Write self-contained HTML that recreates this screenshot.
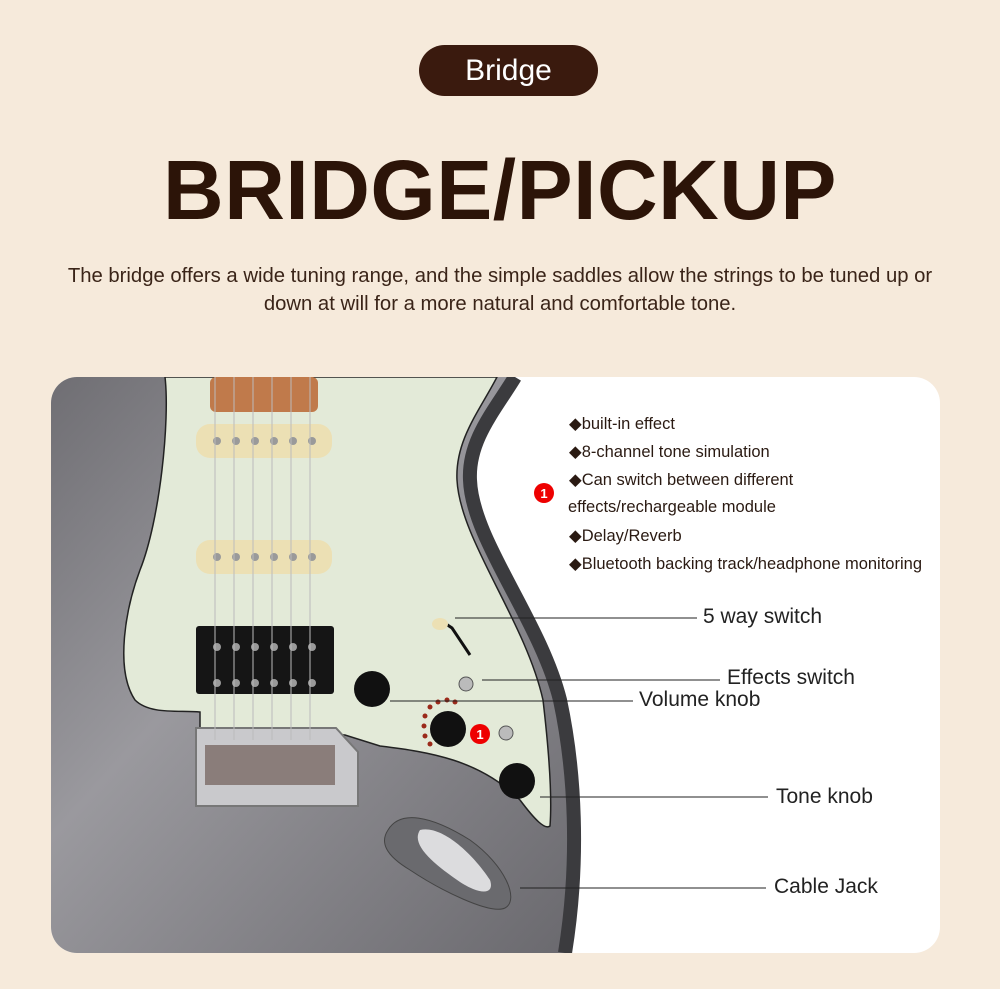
<!DOCTYPE html>
<html><head><meta charset="utf-8"><style>
html,body{margin:0;padding:0;background:#f6eadb;}
body{width:1000px;height:989px;position:relative;overflow:hidden;font-family:"Liberation Sans",sans-serif;}
.pill{position:absolute;left:419px;top:45px;width:179px;height:51px;border-radius:26px;background:#3a1a0e;color:#fff;font-size:30px;text-align:center;line-height:51px;}
h1{position:absolute;left:0;top:140px;width:1000px;margin:0;text-align:center;font-size:84px;font-weight:bold;color:#2c1408;letter-spacing:0.5px;line-height:100px;}
.desc{position:absolute;left:0;top:262px;width:1000px;text-align:center;font-size:20.3px;line-height:28px;color:#3a2418;}
.card{position:absolute;left:51px;top:377px;width:889px;height:576px;border-radius:26px;background:#fff;overflow:hidden;}
.t{position:absolute;font-size:16.5px;color:#2a1a12;}
.l{position:absolute;font-size:21px;color:#222;}
</style></head><body>
<div class="pill">Bridge</div>
<h1>BRIDGE/PICKUP</h1>
<div class="desc">The bridge offers a wide tuning range, and the simple saddles allow the strings to be tuned up or<br>down at will for a more natural and comfortable tone.</div>
<div class="card">
<svg width="889" height="576" viewBox="51 377 889 576" style="position:absolute;left:0;top:0">
<defs><linearGradient id="g" x1="0" y1="0" x2="1" y2="1"><stop offset="0" stop-color="#6f6e73"/><stop offset="0.4" stop-color="#9a999e"/><stop offset="1" stop-color="#6a696e"/></linearGradient></defs>
<path d="M51 377 H515 C495 410 468 440 470 480 C472 540 540 620 560 700 C575 770 580 860 565 953 H51 Z" fill="url(#g)"/>
<path d="M515 377 C495 410 468 440 470 480 C472 540 540 620 560 700 C575 770 580 860 565 953" fill="none" stroke="#3b3b3e" stroke-width="14"/>
<path d="M340 377 C360 390 400 400 430 390 L450 377 Z" fill="#3a3a3d"/>
<path d="M165 377 C170 420 160 520 140 570 C125 610 115 670 135 700 C150 715 180 710 200 712 L200 728 L345 735 L380 746 C430 752 480 760 520 800 C535 820 545 830 550 826 C552 800 550 760 543 700 C525 620 460 540 457 480 C455 440 480 410 497 377 Z" fill="#e3ead8" stroke="#222" stroke-width="1.5"/>
<rect x="210" y="377" width="108" height="35" rx="6" fill="#c07a4b"/>
<rect x="196" y="424" width="136" height="34" rx="14" fill="#ece0b4"/>
<rect x="196" y="540" width="136" height="34" rx="14" fill="#ece0b4"/>
<rect x="196" y="626" width="138" height="68" rx="3" fill="#151515"/>
<g fill="#9a9a9a"><circle cx="217" cy="441" r="4"/><circle cx="236" cy="441" r="4"/><circle cx="255" cy="441" r="4"/><circle cx="274" cy="441" r="4"/><circle cx="293" cy="441" r="4"/><circle cx="312" cy="441" r="4"/>
<circle cx="217" cy="557" r="4"/><circle cx="236" cy="557" r="4"/><circle cx="255" cy="557" r="4"/><circle cx="274" cy="557" r="4"/><circle cx="293" cy="557" r="4"/><circle cx="312" cy="557" r="4"/>
<circle cx="217" cy="647" r="4"/><circle cx="236" cy="647" r="4"/><circle cx="255" cy="647" r="4"/><circle cx="274" cy="647" r="4"/><circle cx="293" cy="647" r="4"/><circle cx="312" cy="647" r="4"/>
<circle cx="217" cy="683" r="4"/><circle cx="236" cy="683" r="4"/><circle cx="255" cy="683" r="4"/><circle cx="274" cy="683" r="4"/><circle cx="293" cy="683" r="4"/><circle cx="312" cy="683" r="4"/></g>
<path d="M196 728 H336 L358 752 V806 H196 Z" fill="#c9c9cc" stroke="#777" stroke-width="2"/>
<rect x="205" y="745" width="130" height="40" fill="#8a7d7a"/>
<g stroke="#bbb" stroke-width="1"><line x1="215" y1="377" x2="215" y2="740"/><line x1="234" y1="377" x2="234" y2="740"/><line x1="253" y1="377" x2="253" y2="740"/><line x1="272" y1="377" x2="272" y2="740"/><line x1="291" y1="377" x2="291" y2="740"/><line x1="310" y1="377" x2="310" y2="740"/></g>
<circle cx="372" cy="689" r="18" fill="#111"/>
<circle cx="448" cy="729" r="18" fill="#111"/>
<circle cx="517" cy="781" r="18" fill="#111"/>
<g fill="#9b2a1a"><circle cx="425" cy="716" r="2.5"/><circle cx="430" cy="707" r="2.5"/><circle cx="438" cy="702" r="2.5"/><circle cx="447" cy="700" r="2.5"/><circle cx="424" cy="726" r="2.5"/><circle cx="425" cy="736" r="2.5"/><circle cx="430" cy="744" r="2.5"/><circle cx="455" cy="702" r="2.5"/></g>
<circle cx="506" cy="733" r="7" fill="#bbb" stroke="#555"/>
<circle cx="466" cy="684" r="7" fill="#bbb" stroke="#555"/>
<path d="M440 620 L452 628 L470 655" stroke="#111" stroke-width="3" fill="none"/><ellipse cx="440" cy="624" rx="8" ry="6" fill="#ece0b4"/>
<path d="M388 830 C400 810 430 815 470 840 C505 865 520 900 505 908 C490 915 440 890 410 870 C385 855 380 842 388 830 Z" fill="#6a6a6e" stroke="#444"/>
<path d="M420 830 C440 825 470 850 490 880 C495 895 480 895 460 882 C435 865 410 845 420 830 Z" fill="#dcdcde"/>
<circle cx="480" cy="734" r="10" fill="#e00"/><circle cx="544" cy="493" r="10" fill="#e00"/>
<g stroke="#222" stroke-width="1"><line x1="455" y1="618" x2="697" y2="618"/><line x1="482" y1="680" x2="720" y2="680"/><line x1="390" y1="701" x2="633" y2="701"/><line x1="540" y1="797" x2="768" y2="797"/><line x1="520" y1="888" x2="766" y2="888"/></g>
<g fill="#fff" font-size="13" font-weight="bold" font-family="Liberation Sans"><text x="480" y="739" text-anchor="middle">1</text><text x="544" y="498" text-anchor="middle">1</text></g>
</svg>
<div class="t" style="left:518px;top:37px">◆built-in effect</div>
<div class="t" style="left:518px;top:65px">◆8-channel tone simulation</div>
<div class="t" style="left:518px;top:93px">◆Can switch between different</div>
<div class="t" style="left:517px;top:121px">effects/rechargeable module</div>
<div class="t" style="left:518px;top:149px">◆Delay/Reverb</div>
<div class="t" style="left:518px;top:177px">◆Bluetooth backing track/headphone monitoring</div>
<div class="l" style="left:652px;top:228px">5 way switch</div>
<div class="l" style="left:676px;top:289px">Effects switch</div>
<div class="l" style="left:588px;top:311px">Volume knob</div>
<div class="l" style="left:725px;top:408px">Tone knob</div>
<div class="l" style="left:723px;top:498px">Cable Jack</div>
</div>
</body></html>
